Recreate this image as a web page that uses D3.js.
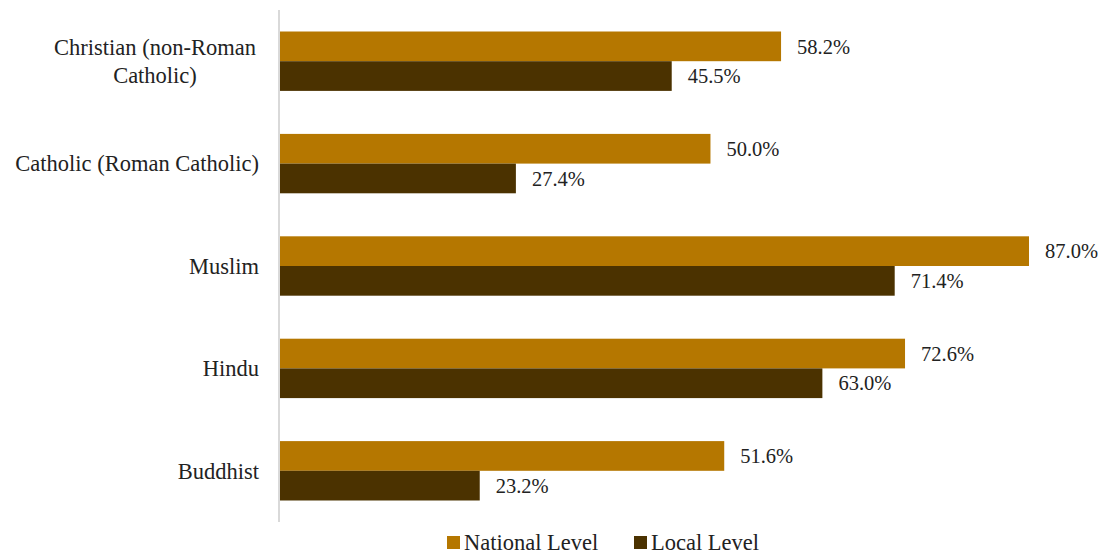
<!DOCTYPE html>
<html><head><meta charset="utf-8">
<script src="https://cdn.jsdelivr.net/npm/d3@7"></script>
</head><body style="margin:0">
<svg id="c" width="1107" height="554" style="display:block"></svg>
<script>
const categories = ["Christian (non-Roman Catholic)", "Catholic (Roman Catholic)", "Muslim", "Hindu", "Buddhist"];
const categoryLines = [["Christian (non-Roman", "Catholic)"], ["Catholic (Roman Catholic)"], ["Muslim"], ["Hindu"], ["Buddhist"]];
const seriesNames = ["National Level", "Local Level"];
const nationalLevel = [58.2, 50.0, 87.0, 72.6, 51.6];
const localLevel = [45.5, 27.4, 71.4, 63.0, 23.2];
const seriesColors = ["#B57700", "#4B3200"];

(function(){
const svg = d3.select("#c");
const font = '"Liberation Serif"';
const labelFs = "22.5px", numFs = "20.5px";
const x0 = 280, plotTop = 10, plotBottom = 522;
const x = d3.scaleLinear().domain([0, 87]).range([x0, 1029]);
const y = d3.scaleBand().domain(categories).range([plotTop, plotBottom]).paddingInner(0.42).paddingOuter(0.21);
const ySub = d3.scaleBand().domain(seriesNames).range([0, y.bandwidth()]);
const series = [nationalLevel, localLevel];

const g = svg.append("g");
series.forEach((vals, si) => {
  g.selectAll(null).data(categories).enter().append("rect")
    .attr("x", x(0))
    .attr("y", d => y(d) + ySub(seriesNames[si]))
    .attr("width", (d, i) => x(vals[i]) - x(0))
    .attr("height", ySub.bandwidth())
    .attr("fill", seriesColors[si]);
  g.selectAll(null).data(categories).enter().append("text")
    .attr("x", (d, i) => x(vals[i]) + 16)
    .attr("y", d => y(d) + ySub(seriesNames[si]) + ySub.bandwidth() / 2)
    .attr("dy", "0.35em")
    .style("font-family", font).style("font-size", numFs).attr("fill", "#222")
    .text((d, i) => vals[i].toFixed(1) + "%");
});

svg.append("line").attr("x1", x0 - 1).attr("x2", x0 - 1).attr("y1", plotTop).attr("y2", plotBottom)
  .attr("stroke", "#d9d9d9").attr("stroke-width", 2);

categories.forEach((c, i) => {
  const lines = categoryLines[i];
  const cy = y(c) + y.bandwidth() / 2;
  const lh = 28;
  const multi = lines.length > 1;
  const t = svg.append("text").attr("text-anchor", multi ? "middle" : "end")
    .style("font-family", font).style("font-size", labelFs).attr("fill", "#222");
  lines.forEach((l, k) => {
    t.append("tspan").attr("x", multi ? 155 : 259)
      .attr("y", cy + (k - (lines.length - 1) / 2) * lh).attr("dy", "0.35em").text(l);
  });
});

const legend = [{x: 447, tx: 464}, {x: 634, tx: 651}];
seriesNames.forEach((s, i) => {
  svg.append("rect").attr("x", legend[i].x).attr("y", 536).attr("width", 13).attr("height", 13).attr("fill", seriesColors[i]);
  svg.append("text").attr("x", legend[i].tx).attr("y", 542).attr("dy", "0.35em")
    .style("font-family", font).style("font-size", labelFs).attr("fill", "#222").text(s);
});
})();
</script>
</body></html>
